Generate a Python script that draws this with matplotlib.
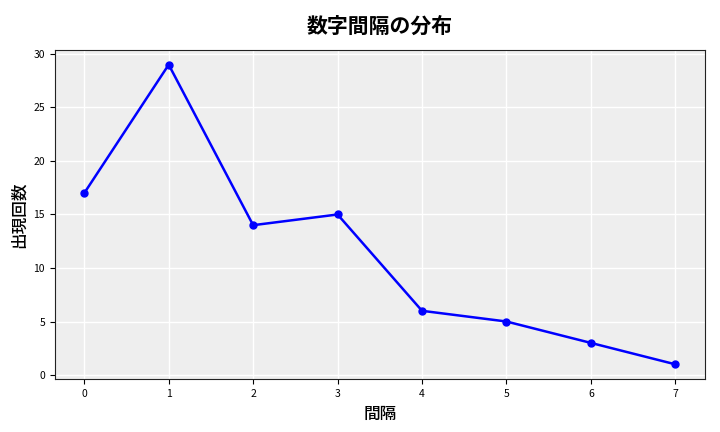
import matplotlib
matplotlib.use("Agg")
import matplotlib.pyplot as plt

plt.rcParams["font.family"] = ["Noto Sans CJK JP", "DejaVu Sans"]

# gap sizes and how often each occurred
gaps = [0, 1, 2, 3, 4, 5, 6, 7]
counts = [17, 29, 14, 15, 6, 5, 3, 1]

fig, ax = plt.subplots(figsize=(7.2, 4.32), dpi=100)

ax.set_facecolor("#eeeeee")
ax.grid(True, color="white", linewidth=1.0)
ax.set_axisbelow(True)

ax.plot(gaps, counts, color="blue", marker="o", markersize=5, linewidth=1.8)

ax.set_title("数字間隔の分布", fontsize=15, fontweight="bold", pad=12)
ax.set_xlabel("間隔", fontsize=12, fontweight="medium")
ax.set_ylabel("出現回数", fontsize=12, fontweight="medium")
ax.tick_params(labelsize=7.5)

for spine in ax.spines.values():
    spine.set_color("#222222")

fig.subplots_adjust(left=0.076, right=0.979, top=0.885, bottom=0.122)
plt.savefig("out.png", dpi=100)
plt.close(fig)
